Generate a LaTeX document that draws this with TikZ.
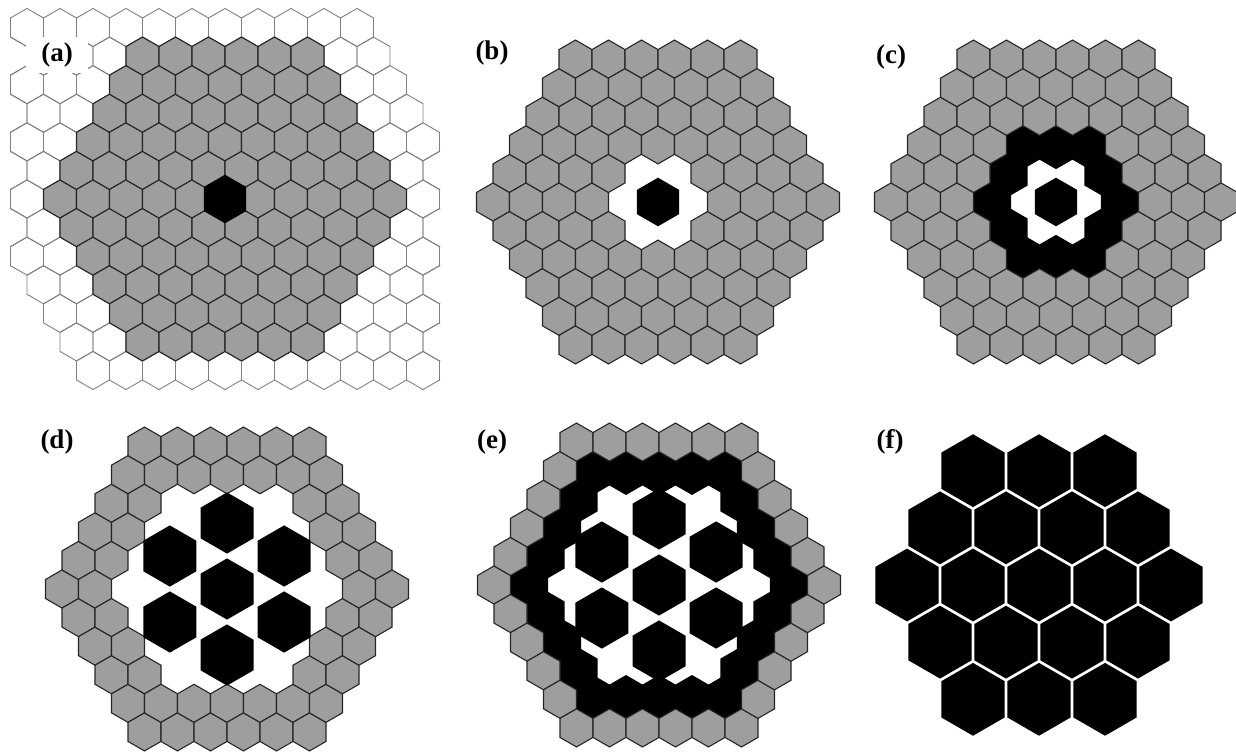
\documentclass[tikz,border=0pt]{standalone}
\usepackage{fontspec}
\setmainfont{Liberation Serif}
\definecolor{cellgrey}{gray}{0.62}

% one pointy-topped hexagon: centre x, centre y, radius
\newcommand{\hexpath}[3]{(#1,#2) ++(90:#3) -- ++(210:#3) -- ++(270:#3) -- ++(330:#3) -- ++(30:#3) -- ++(90:#3) -- cycle}

% cells of a side-6 patch: centre x, centre y, first ring, last ring, radius, style
\newcommand{\hexcells}[6]{%
  \foreach \hq in {-5,...,5}{
    \foreach \hr in {-5,...,5}{
      \pgfmathtruncatemacro{\hring}{max(abs(\hq),abs(\hr),abs(\hq+\hr))}
      \pgfmathtruncatemacro{\hkeep}{and(\hring>=#3,\hring<=#4)}
      \ifnum\hkeep=1
        \pgfmathsetmacro{\hx}{#1+33*(\hq+0.5*(\hr))}
        \pgfmathsetmacro{\hy}{#2+28.58*(\hr)}
        \path[#6] \hexpath{\hx}{\hy}{#5};
      \fi
    }
  }%
}

% seven big black cells
\newcommand{\flower}[2]{%
  \path[blackcell] \hexpath{#1}{#2}{30.6};
  \foreach \ha in {30,90,...,330}{
    \pgfmathsetmacro{\hx}{#1+66*cos(\ha)}
    \pgfmathsetmacro{\hy}{#2+66*sin(\ha)}
    \path[blackcell] \hexpath{\hx}{\hy}{30.6};
  }%
}

\begin{document}
\begin{tikzpicture}[x=1pt, y=-1pt,
  greycell/.style={draw=black!85, line width=1.1pt, fill=cellgrey, line join=miter},
  blackcell/.style={fill=black, draw=none},
  gridline/.style={draw=black!50, line width=0.9pt},
  paneltag/.style={font=\fontsize{27}{30}\selectfont\bfseries, inner sep=0pt},
]
\useasboundingbox (0,0) rectangle (1236,752);

% (a)
\begin{scope}
  \clip (10,0) rectangle (440,400);
  \foreach \hr in {-6,...,6}{
    \foreach \hk in {-7,...,7}{
      \pgfmathsetmacro{\hx}{225+33*(\hk+0.5*(\hr))}
      \pgfmathsetmacro{\hy}{199+28.58*(\hr)}
      \path[gridline] \hexpath{\hx}{\hy}{19.05};
    }
  }
\end{scope}
\hexcells{225}{199}{0}{5}{19.05}{greycell}
\path[blackcell] \hexpath{225}{199}{24.3};
\node[paneltag, fill=white, minimum width=62pt, minimum height=36pt] (la) at (57,55) {(a)};

% (b)
\path[blackcell] \hexpath{658}{202}{24.3};
\hexcells{658}{202}{2}{5}{19.05}{greycell}
\node[paneltag] (lb) at (492,53) {(b)};

% (c)
\hexcells{1056}{202}{2}{2}{24.3}{blackcell}
\path[blackcell] \hexpath{1056}{202}{24.3};
\hexcells{1056}{202}{3}{5}{19.05}{greycell}
\node[paneltag] (lc) at (891,57) {(c)};

% (d)
\hexcells{227}{589}{4}{5}{19.05}{greycell}
\flower{227}{589}
\node[paneltag] (ld) at (57,442) {(d)};

% (e)
\hexcells{659}{585}{4}{4}{24.3}{blackcell}
\flower{659}{585}
\hexcells{659}{585}{5}{5}{19.05}{greycell}
\node[paneltag] (le) at (492,442) {(e)};

% (f)
\foreach \hq in {-2,...,2}{
  \foreach \hr in {-2,...,2}{
    \pgfmathtruncatemacro{\hring}{max(abs(\hq),abs(\hr),abs(\hq+\hr))}
    \ifnum\hring<3
      \pgfmathsetmacro{\hx}{1039+66*(\hq+0.5*(\hr))}
      \pgfmathsetmacro{\hy}{585+57.16*(\hr)}
      \path[blackcell] \hexpath{\hx}{\hy}{36.4};
    \fi
  }
}
\node[paneltag] (lf) at (890,442) {(f)};
\end{tikzpicture}
\end{document}
